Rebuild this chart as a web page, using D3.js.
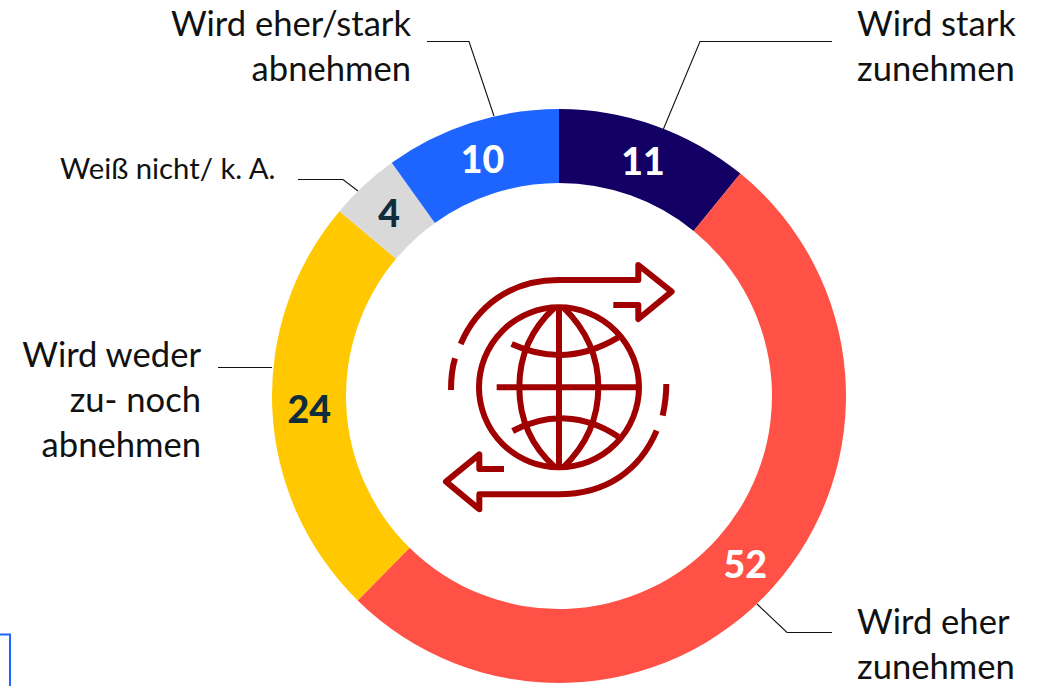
<!DOCTYPE html>
<html><head><meta charset="utf-8">
<script src="https://cdn.jsdelivr.net/npm/d3@7"></script>
<style>html,body{margin:0;padding:0;background:#fff;overflow:hidden}svg{display:block}text{font-family:Lato,"Open Sans",sans-serif}</style>
</head><body><svg id="c" width="1045" height="686"></svg>
<script>
const categories = ["Wird stark zunehmen","Wird eher zunehmen","Wird weder zu- noch abnehmen","Weiß nicht/ k. A.","Wird eher/stark abnehmen"];
const values = [11,52,24,4,10];
const colors = ["#120064","#FF5145","#FFC800","#D9D9D9","#1E64FF"];
const valueColors = ["#fff","#fff","#0F2D3C","#0F2D3C","#fff"];
const labelLines = [["Wird stark","zunehmen"],["Wird eher","zunehmen"],["Wird weder","zu- noch","abnehmen"],["Weiß nicht/ k. A."],["Wird eher/stark","abnehmen"]];

const svg = d3.select("#c");
const cx = 559, cy = 396, R = 287, r = 213;
const pie = d3.pie().sort(null).value(d => d);
const arc = d3.arc().innerRadius(r).outerRadius(R);
const labelArc = d3.arc().innerRadius(250).outerRadius(250);
const arcs = pie(values);
const g = svg.append("g").attr("transform", `translate(${cx},${cy})`);
g.selectAll("path").data(arcs).join("path").attr("d", arc).attr("fill", (d,i) => colors[i]);
g.selectAll("text").data(arcs).join("text")
  .attr("transform", d => { const c = labelArc.centroid(d); return `translate(${c[0]},${c[1]+1.5})`; })
  .attr("text-anchor","middle").attr("dy","0.36em")
  .attr("font-size",37.5).attr("font-weight",900)
  .attr("fill",(d,i)=>valueColors[i]).text(d=>d.value);

// leader lines
const leaders = [
 [[832,41.5],[700,41.5],[663,130]],
 [[832,632.5],[787,632.5],[757,604]],
 [[218,367.5],[272,367.5]],
 [[298,179.5],[343,179.5],[358,191]],
 [[427,41.5],[469,41.5],[494,116]]
];
svg.selectAll("path.leader").data(leaders).join("path").attr("class","leader")
  .attr("d", d3.line()).attr("fill","none").attr("stroke","#111").attr("stroke-width",1.1);

// category labels
const labelPos = [
 {x:857,y:36,a:"start",s:34.6},{x:857,y:634,a:"start",s:34.6},{x:201,y:367,a:"end",s:34.6},
 {x:60,y:179,a:"start",s:29.3},{x:411,y:36,a:"end",s:34.6}
];
labelLines.forEach((lines,i)=>{
  const p = labelPos[i];
  const t = svg.append("text").attr("text-anchor",p.a).attr("font-size",p.s).attr("fill","#111");
  lines.forEach((l,j)=>t.append("tspan").attr("x",p.x).attr("y",p.y+j*45).text(l));
});

// globe icon
const ic = svg.append("g").attr("transform","translate(430,250) scale(0.3333)")
  .attr("fill","none").attr("stroke","#A00000").attr("stroke-width",18).attr("stroke-linejoin","round");
ic.append("circle").attr("cx",387).attr("cy",412).attr("r",240);
[
 "M92,282C140,170 240,90 385,90L625,90L625,45L725,125L625,207L625,165L550,165",
 "M75,325C66,355 63,385 63,420",
 "M709,402C709,435 705,465 698,497",
 "M680,542C630,660 530,733 385,733L148,733L148,778L48,695L148,613L148,657L222,657",
 "M387,172L387,652",
 "M200,412L627,412",
 "M375,172C300,240 268,320 268,412C268,505 300,585 375,652",
 "M400,172C470,240 505,320 505,412C505,505 470,585 400,652",
 "M245,282C350,330 460,325 565,262",
 "M248,543C350,490 460,490 565,560"
].forEach(d=>ic.append("path").attr("d",d));

// cropped box in the corner
svg.append("path").attr("d",d3.line()([[0,634.5],[10,634.5],[10,686]])).attr("fill","none").attr("stroke","#1E64FF").attr("stroke-width",2);
</script></body></html>
